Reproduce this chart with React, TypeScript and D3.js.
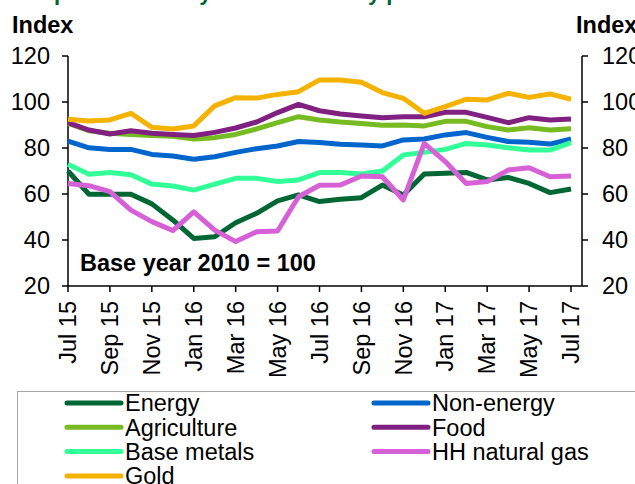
import React from 'react';
import * as d3 from 'd3';

// monthly index values, Jul 15 .. Jul 17 (base year 2010 = 100)
const months = [
  'Jul 15', 'Aug 15', 'Sep 15', 'Oct 15', 'Nov 15', 'Dec 15',
  'Jan 16', 'Feb 16', 'Mar 16', 'Apr 16', 'May 16', 'Jun 16',
  'Jul 16', 'Aug 16', 'Sep 16', 'Oct 16', 'Nov 16', 'Dec 16',
  'Jan 17', 'Feb 17', 'Mar 17', 'Apr 17', 'May 17', 'Jun 17', 'Jul 17',
];
const energy = [70.0, 59.9, 59.9, 59.9, 55.7, 48.7, 40.7, 41.4, 47.5, 51.6, 57.0, 59.6, 56.7, 57.7, 58.4, 63.9, 59.6, 68.7, 69.0, 69.4, 66.1, 67.2, 64.6, 60.6, 62.2];
const nonEnergy = [83.0, 80.1, 79.3, 79.4, 77.2, 76.5, 75.1, 76.2, 78.1, 79.7, 80.9, 82.8, 82.4, 81.6, 81.3, 80.9, 83.5, 83.9, 85.7, 86.7, 84.6, 82.8, 82.5, 81.7, 83.9];
const agriculture = [90.7, 87.5, 86.4, 85.9, 85.4, 85.1, 83.9, 84.5, 85.9, 88.3, 91.0, 93.6, 92.2, 91.3, 90.7, 89.9, 90.0, 89.6, 91.6, 91.6, 89.3, 87.8, 88.8, 87.8, 88.4];
const food = [91.0, 87.8, 86.1, 87.5, 86.4, 85.9, 85.4, 86.8, 88.7, 91.3, 95.4, 99.0, 96.2, 94.8, 93.9, 93.2, 93.6, 93.6, 95.5, 95.5, 93.3, 91.0, 93.2, 92.2, 92.6];
const baseMetals = [72.9, 68.6, 69.3, 68.4, 64.3, 63.5, 61.7, 64.3, 66.8, 66.8, 65.4, 66.1, 69.3, 69.3, 68.7, 70.0, 77.0, 78.1, 79.4, 82.0, 81.3, 80.1, 79.1, 79.1, 82.3];
const hhGas = [64.6, 63.6, 61.0, 53.0, 48.0, 44.1, 52.2, 44.3, 39.3, 43.6, 43.9, 58.8, 63.8, 63.9, 67.8, 67.5, 57.4, 82.0, 74.1, 64.6, 65.4, 70.4, 71.4, 67.5, 67.8];
const gold = [92.5, 91.7, 92.2, 95.1, 89.0, 88.3, 89.6, 98.3, 101.9, 101.7, 103.3, 104.5, 109.6, 109.6, 108.6, 104.1, 101.6, 95.1, 98.0, 101.2, 100.9, 103.8, 102.0, 103.5, 101.2];

const yTicks = [20, 40, 60, 80, 100, 120];

const series = [
  { name: 'Energy', values: energy, color: '#006633' },
  { name: 'Non-energy', values: nonEnergy, color: '#0066cc' },
  { name: 'Agriculture', values: agriculture, color: '#77bb22' },
  { name: 'Food', values: food, color: '#802080' },
  { name: 'Base metals', values: baseMetals, color: '#33ff99' },
  { name: 'HH natural gas', values: hhGas, color: '#d660d6' },
  { name: 'Gold', values: gold, color: '#f5b300' },
];

const font = '"Liberation Sans", Arial, sans-serif';
const fs = 23.5;

export default function App() {
  const width = 635;
  const height = 484;
  const left = 68;
  const lastTick = 571;
  const right = 582;
  const top = 56;
  const bottom = 286;

  const x = d3.scaleLinear().domain([0, months.length - 1]).range([left, lastTick]);
  const y = d3.scaleLinear().domain([20, 120]).range([bottom, top]);

  const line = d3.line<number>()
    .x((_, i) => x(i))
    .y(d => y(d));

  const tickIdx = d3.range(0, months.length, 2);

  return (
    <div style={{ position: 'absolute', left: 0, top: 0 }}>
      <svg width={width} height={height} style={{ display: 'block', fontFamily: font }}>
        <rect width={width} height={height} fill="#fff" />

        {/* title, cut off at top */}
        <text x={5} y={0} fontSize={22} fontWeight="bold" fill="#006633">
          Composite industry and commodity prices
        </text>

        <text x={12} y={33} fontSize={fs} fontWeight="bold">Index</text>
        <text x={576} y={33} fontSize={fs} fontWeight="bold">Index</text>

        {/* left axis */}
        <line x1={left} x2={left} y1={top} y2={bottom} stroke="#000" strokeWidth={1.5} />
        {yTicks.map(t => (
          <g key={'l' + t}>
            <line x1={left - 6} x2={left} y1={y(t)} y2={y(t)} stroke="#000" strokeWidth={1.5} />
            <text x={50} y={y(t)} dy="0.35em" textAnchor="end" fontSize={fs}>{t}</text>
          </g>
        ))}

        {/* right axis */}
        <line x1={right} x2={right} y1={top} y2={bottom} stroke="#000" strokeWidth={1.5} />
        {yTicks.map(t => (
          <g key={'r' + t}>
            <line x1={right} x2={right + 6} y1={y(t)} y2={y(t)} stroke="#000" strokeWidth={1.5} />
            <text x={602} y={y(t)} dy="0.35em" fontSize={fs}>{t}</text>
          </g>
        ))}

        {/* x axis */}
        <line x1={left} x2={right} y1={bottom} y2={bottom} stroke="#000" strokeWidth={1.5} />
        {tickIdx.map(i => (
          <g key={'x' + i}>
            <line x1={x(i)} x2={x(i)} y1={bottom} y2={bottom + 6} stroke="#000" strokeWidth={1.5} />
            <text
              transform={`translate(${x(i)},301) rotate(-90)`}
              dy="0.35em"
              textAnchor="end"
              fontSize={fs}
            >
              {months[i]}
            </text>
          </g>
        ))}

        {series.map(s => (
          <path
            key={s.name}
            d={line(s.values) ?? ''}
            fill="none"
            stroke={s.color}
            strokeWidth={5}
            strokeLinejoin="round"
          />
        ))}

        <text x={80} y={271} fontSize={fs} fontWeight="bold">Base year 2010 = 100</text>

        {/* legend */}
        <rect x={17.5} y={391.5} width={640} height={120} fill="none" stroke="#a6a6a6" strokeWidth={1} />
        {series.map((s, i) => {
          const col = i % 2;
          const row = Math.floor(i / 2);
          const lx = col === 0 ? 67 : 374;
          const ly = 403 + row * 24.3;
          return (
            <g key={'lg' + s.name}>
              <line x1={lx} x2={lx + 54} y1={ly} y2={ly} stroke={s.color} strokeWidth={5} strokeLinecap="round" />
              <text x={lx + 58} y={ly} dy="0.35em" fontSize={fs}>{s.name}</text>
            </g>
          );
        })}
      </svg>
    </div>
  );
}
